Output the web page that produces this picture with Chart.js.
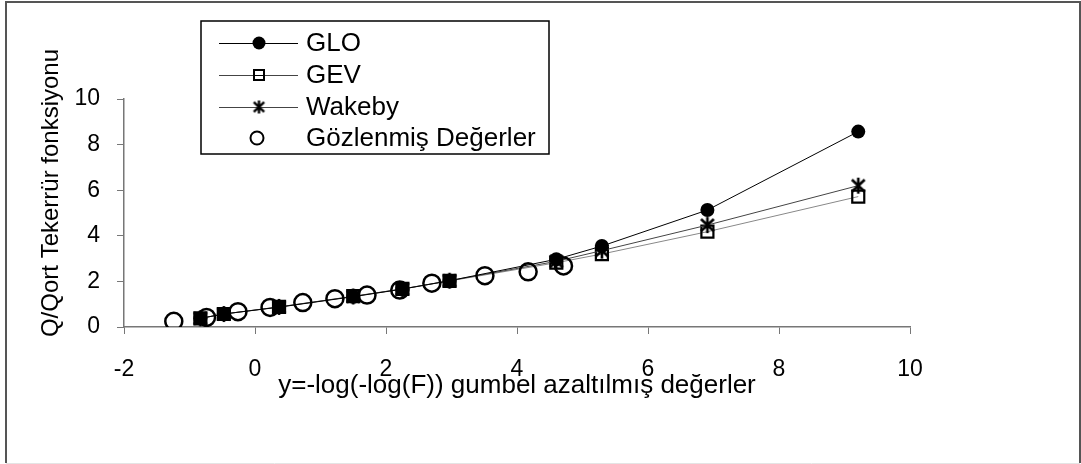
<!DOCTYPE html>
<html>
<head>
<meta charset="utf-8">
<script src="https://cdn.jsdelivr.net/npm/chart.js@4"></script>
<style>
  html, body { margin: 0; padding: 0; background: #fff; }
  canvas { display: block; }
</style>
</head>
<body>
<canvas id="chart" width="1081" height="464"></canvas>
<script>
// Gumbel reduced variate y = -ln(-ln F) for the fitted return periods
const reducedVariate = [-0.834, -0.476, 0.367, 1.500, 2.250, 2.970, 4.600, 5.296, 6.907, 9.210];
const gloValues    = [0.38, 0.57, 0.87, 1.33, 1.66, 2.03, 2.97, 3.55, 5.13, 8.57];
const gevValues    = [0.38, 0.57, 0.88, 1.35, 1.67, 2.02, 2.82, 3.20, 4.18, 5.72];
const wakebyValues = [0.38, 0.57, 0.88, 1.34, 1.67, 2.03, 2.88, 3.35, 4.47, 6.20];

// observed (plotting position) values
const observedVariate = [-1.24, -0.74, -0.26, 0.23, 0.73, 1.22, 1.71, 2.21, 2.70, 3.51, 4.17, 4.71];
const observedValues  = [0.25, 0.42, 0.67, 0.86, 1.07, 1.24, 1.40, 1.62, 1.92, 2.25, 2.42, 2.68];

const seriesNames = ['GLO', 'GEV', 'Wakeby', 'Gözlenmiş Değerler'];
const xTitle = 'y=-log(-log(F)) gumbel azaltılmış değerler';
const yTitle = 'Q/Qort Tekerrür fonksiyonu';
const xRange = [-2, 10];
const yRange = [0, 10];

const FONT = '"Liberation Sans", Arial, sans-serif';

// asterisk marker: vertical bar plus an X
function makeAsterisk(size, lw) {
  const c = document.createElement('canvas');
  c.width = size; c.height = size;
  const g = c.getContext('2d');
  const m = size / 2, r = size / 2 - 1;
  g.strokeStyle = '#000';
  g.lineWidth = lw;
  g.beginPath();
  g.moveTo(m, m - r); g.lineTo(m, m + r);
  g.moveTo(m - r * 0.8, m - r * 0.75); g.lineTo(m + r * 0.8, m + r * 0.75);
  g.moveTo(m + r * 0.8, m - r * 0.75); g.lineTo(m - r * 0.8, m + r * 0.75);
  g.stroke();
  return c;
}
const asteriskPoint = makeAsterisk(18, 2.6);
const asteriskLegend = makeAsterisk(15, 2.4);

const toPoints = (xs, ys) => xs.map((x, i) => ({ x: x, y: ys[i] }));

// frame, axis titles and the boxed legend
const decorations = {
  id: 'decorations',
  afterDraw(chart) {
    const ctx = chart.ctx;
    ctx.save();

    ctx.strokeStyle = '#555';
    ctx.lineWidth = 2;
    ctx.beginPath();
    ctx.moveTo(6, 463); ctx.lineTo(6, 2); ctx.lineTo(1080, 2); ctx.lineTo(1080, 463);
    ctx.stroke();
    ctx.strokeStyle = '#e4e4e4';
    ctx.lineWidth = 1;
    ctx.beginPath();
    ctx.moveTo(6, 463.5); ctx.lineTo(1080, 463.5);
    ctx.stroke();

    ctx.fillStyle = '#000';
    ctx.font = '26px ' + FONT;
    ctx.textAlign = 'center';
    ctx.textBaseline = 'alphabetic';
    ctx.fillText(xTitle, 517, 393);

    ctx.save();
    ctx.translate(58, 193);
    ctx.rotate(-Math.PI / 2);
    ctx.font = '24px ' + FONT;
    ctx.fillText(yTitle, 0, 0);
    ctx.restore();

    // legend box
    ctx.fillStyle = '#fff';
    ctx.fillRect(201, 21, 348, 133);
    ctx.strokeStyle = '#000';
    ctx.lineWidth = 1.5;
    ctx.strokeRect(201, 21, 348, 133);

    const rows = [43, 75, 107, 138];
    const mx = 259;
    ctx.font = '26px ' + FONT;
    ctx.textAlign = 'left';
    ctx.textBaseline = 'middle';
    rows.forEach((ry, i) => {
      if (i < 3) {
        ctx.strokeStyle = i === 0 ? '#000' : '#444';
        ctx.lineWidth = 1;
        ctx.beginPath();
        ctx.moveTo(219, ry + 0.5); ctx.lineTo(298, ry + 0.5);
        ctx.stroke();
      }
      ctx.lineWidth = 2;
      ctx.strokeStyle = '#000';
      if (i === 0) {
        ctx.fillStyle = '#000';
        ctx.beginPath(); ctx.arc(mx, ry, 6.5, 0, Math.PI * 2); ctx.fill();
      } else if (i === 1) {
        ctx.fillStyle = '#fff';
        ctx.fillRect(mx - 5, ry - 5, 10, 10);
        ctx.strokeRect(mx - 5, ry - 5, 10, 10);
        ctx.beginPath(); ctx.moveTo(mx - 5, ry + 0.5); ctx.lineTo(mx + 5, ry + 0.5);
        ctx.lineWidth = 1; ctx.stroke();
      } else if (i === 2) {
        ctx.drawImage(asteriskLegend, mx - 7.5, ry - 7.5);
      } else {
        ctx.beginPath(); ctx.arc(mx - 2, ry, 6.5, 0, Math.PI * 2); ctx.stroke();
      }
      ctx.fillStyle = '#000';
      ctx.fillText(seriesNames[i], 306, ry + 1);
    });

    ctx.restore();
  }
};

new Chart(document.getElementById('chart'), {
  type: 'scatter',
  data: {
    datasets: [
      {
        label: seriesNames[3],
        data: toPoints(observedVariate, observedValues),
        showLine: false,
        pointStyle: 'circle',
        pointRadius: 8.5,
        pointBorderWidth: 2.5,
        pointBorderColor: '#000',
        pointBackgroundColor: 'rgba(0,0,0,0)',
        order: 0
      },
      {
        label: seriesNames[0],
        data: toPoints(reducedVariate, gloValues),
        showLine: true,
        borderColor: '#000',
        borderWidth: 1,
        pointStyle: 'circle',
        pointRadius: 7,
        pointBorderWidth: 0,
        pointBackgroundColor: '#000',
        order: 1
      },
      {
        label: seriesNames[2],
        data: toPoints(reducedVariate, wakebyValues),
        showLine: true,
        borderColor: '#444',
        borderWidth: 1,
        pointStyle: asteriskPoint,
        order: 2
      },
      {
        label: seriesNames[1],
        data: toPoints(reducedVariate, gevValues),
        showLine: true,
        borderColor: '#888',
        borderWidth: 1,
        pointStyle: 'rect',
        pointRadius: 8.5,
        pointBorderWidth: 2.2,
        pointBorderColor: '#000',
        pointBackgroundColor: 'rgba(0,0,0,0)',
        order: 3
      }
    ]
  },
  options: {
    responsive: false,
    animation: false,
    devicePixelRatio: 1,
    layout: { padding: { top: 99, right: 171, left: 0, bottom: 0 } },
    plugins: {
      legend: { display: false },
      tooltip: { enabled: false }
    },
    scales: {
      x: {
        type: 'linear',
        min: xRange[0],
        max: xRange[1],
        afterFit: (s) => { s.height = 137; },
        ticks: { stepSize: 2, color: '#000', padding: 22, font: { family: FONT, size: 23 } },
        grid: { drawOnChartArea: false, tickLength: 7, color: '#777' },
        border: { color: '#777', width: 1.5 }
      },
      y: {
        type: 'linear',
        min: yRange[0],
        max: yRange[1],
        afterFit: (s) => { s.width = 124; },
        ticks: { stepSize: 2, color: '#000', padding: 17, font: { family: FONT, size: 23 } },
        grid: { drawOnChartArea: false, tickLength: 7, color: '#777' },
        border: { color: '#777', width: 1.5 }
      }
    }
  },
  plugins: [decorations]
});
</script>
</body>
</html>
